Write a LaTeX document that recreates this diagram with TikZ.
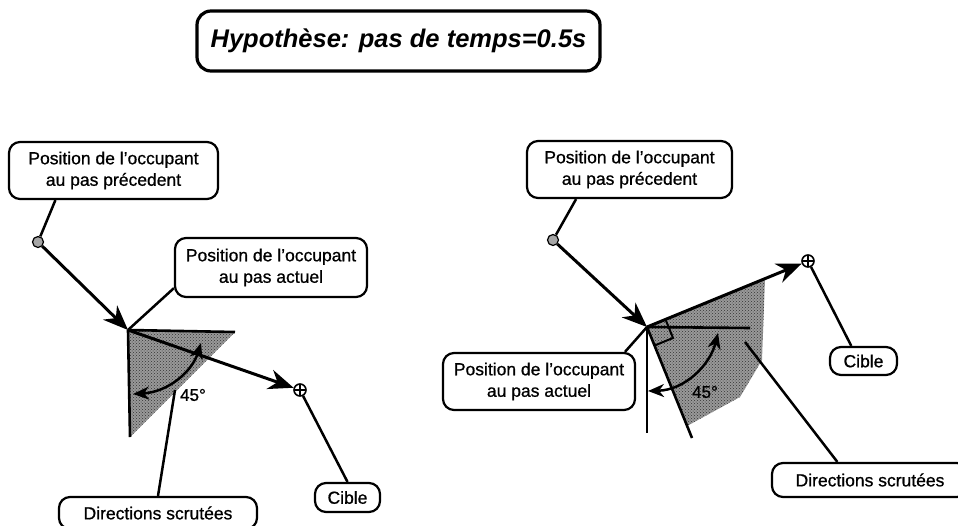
\documentclass[tikz,border=0pt]{standalone}
\usepackage{fontspec}
\setmainfont{Liberation Sans}
\newfontfamily\heavysans[FakeBold=0.8,Ligatures=TeX]{Liberation Sans}
\usetikzlibrary{arrows.meta,patterns,calc}
\begin{document}
\begin{tikzpicture}[x=1pt,y=-1pt,
  lbl/.style={draw, fill=white, line width=2.2pt, rounded corners=11pt, align=center, inner sep=0pt, font=\heavysans\fontsize{17.5}{21.5}\selectfont},
  conn/.style={line width=2.5pt},
  mainarrow/.style={line width=3pt, -{Stealth[length=25pt,width=20pt,inset=8pt]}},
  anglearc/.style={line width=2.5pt, {Stealth[length=16pt,width=13pt,inset=5pt]}-{Stealth[length=16pt,width=13pt,inset=5pt]}},
  edge/.style={line width=2.6pt},
  shadezone/.style={fill=black!40, postaction={pattern=crosshatch dots, pattern color=black!80}},
  prevmark/.style={circle, draw, line width=1.2pt, minimum size=11pt, inner sep=0pt, fill=gray!70},
  tgtmark/.style={circle, draw, fill=white, line width=1.6pt, minimum size=12pt, inner sep=0pt,
    path picture={\draw[line width=1.4pt] (path picture bounding box.north)--(path picture bounding box.south) (path picture bounding box.west)--(path picture bounding box.east);}},
  anglbl/.style={inner sep=0pt, font=\heavysans\fontsize{17}{18}\selectfont}
]
\useasboundingbox (0,0) rectangle (958,525);
\clip (0,0) rectangle (958,525);

% ---------- title ----------
\node[draw, line width=3.2pt, rounded corners=14pt, minimum width=403pt, minimum height=60pt,
  font=\fontsize{25.5}{30}\selectfont\bfseries\itshape] (title) at (398.5,41) {Hypothèse: pas de temps=0.5s};

% ---------- left diagram ----------
\coordinate (curL) at (128,330);
\coordinate (hL) at (235,332);
\coordinate (vL) at (130,437);
\coordinate (dL) at (175,390);
\coordinate (arcLa) at (201,343);
\coordinate (arcLb) at (133,394);

\fill[shadezone] (curL) -- (hL) -- (vL) -- cycle;
\draw[edge] (curL) -- (hL);
\draw[edge] (curL) -- (vL);

\node[prevmark] (prevL) at (38,242) {};
\node[tgtmark] (tgtL) at (300,390) {};

\node[lbl, minimum width=209pt, minimum height=57pt] (p1L) at (113.5,170.5) {Position de l'occupant\\au pas précedent};
\node[lbl, minimum width=192pt, minimum height=59pt] (p2L) at (271,267.5) {Position de l'occupant\\au pas actuel};
\node[lbl, minimum width=65pt, minimum height=29pt] (cibL) at (347.5,497.5) {Cible};
\node[lbl, minimum width=198pt, minimum height=32pt] (dirL) at (158,513) {Directions scrutées};

\draw[conn] (p1L.207) -- (prevL);
\draw[mainarrow] (prevL) -- (curL);
\draw[conn] (p2L.192) -- (curL);
\draw[mainarrow] (curL) -- (tgtL);
\draw[conn] (tgtL) -- (cibL.north);
\draw[conn] (dirL.north) -- (dL);
\draw[anglearc] (arcLa) .. controls (192,372) and (168,392) .. (arcLb);
\node[anglbl] (aL) at (193,395) {45°};

% ---------- right diagram ----------
\coordinate (curR) at (647,327);
\coordinate (hR) at (750,328);
\coordinate (vR) at (647,433);
\coordinate (tR) at (692,438);
\coordinate (dR) at (745,342);
\coordinate (arcRa) at (718,333);
\coordinate (arcRb) at (648,391);

\node[tgtmark] (tgtR) at (808,261) {};
\fill[shadezone] (curR) -- (765,279) -- (762,360) -- (740,397) -- (687,426) -- cycle;
\draw[edge] (curR) -- (hR);
\draw[edge] (curR) -- (vR);
\draw[edge] (curR) -- (tR);

\coordinate (sqa) at ($(curR)!20pt!(tgtR)$);
\coordinate (sqb) at ($(curR)!20pt!(tR)$);
\draw[line width=2pt] (sqa) -- ($(sqa)+(sqb)-(curR)$) -- (sqb);

\node[prevmark] (prevR) at (553,240) {};

\node[lbl, minimum width=205pt, minimum height=57pt] (p1R) at (629.5,169.5) {Position de l'occupant\\au pas précedent};
\node[lbl, minimum width=192pt, minimum height=57pt] (p2R) at (539,381.5) {Position de l'occupant\\au pas actuel};
\node[lbl, minimum width=67pt, minimum height=28pt] (cibR) at (863.5,361) {Cible};
\node[lbl, minimum width=196pt, minimum height=34pt] (dirR) at (870,480) {Directions scrutées};

\draw[conn] (p1R.209) -- (prevR);
\draw[mainarrow] (prevR) -- (curR);
\draw[conn] (p2R.19) -- (curR);
\draw[mainarrow] (curR) -- (tgtR);
\draw[conn] (tgtR) -- (cibR.129);
\draw[conn] (dirR.151) -- (dR);
\draw[anglearc] (arcRa) .. controls (710,365) and (685,390) .. (arcRb);
\node[anglbl] (aR) at (705,392) {45°};
\end{tikzpicture}
\end{document}
